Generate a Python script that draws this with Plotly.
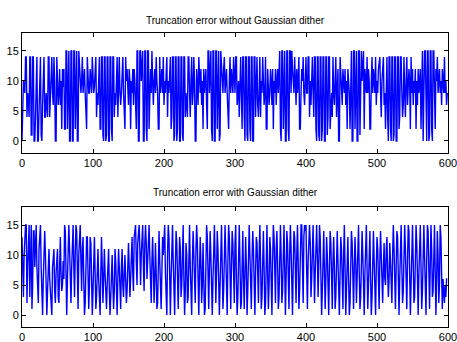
import plotly.graph_objects as go

# Truncation error without Gaussian dither (samples 0..599)
err_no_dither = [
    0, 5, 10, 9, 8, 14, 14, 4, 8, 7, 4, 14, 14, 1, 1, 14, 14, 0, 0, 4,
    14, 14, 0, 0, 5, 14, 14, 1, 0, 6, 14, 14, 4, 4, 8, 6, 4, 14, 14, 4,
    8, 8, 14, 8, 6, 14, 10, 0, 0, 14, 10, 6, 8, 12, 6, 10, 2, 12, 9, 12,
    2, 2, 15, 15, 2, 15, 15, 0, 0, 15, 15, 0, 0, 15, 15, 2, 15, 15, 0, 0,
    15, 12, 10, 8, 10, 14, 8, 10, 12, 8, 2, 2, 14, 10, 8, 8, 12, 10, 8, 14,
    10, 8, 9, 14, 14, 4, 8, 6, 14, 14, 2, 2, 14, 14, 1, 0, 14, 14, 0, 1,
    14, 14, 0, 0, 14, 14, 2, 0, 14, 14, 4, 8, 6, 14, 14, 4, 8, 14, 8, 6,
    8, 10, 14, 8, 2, 2, 14, 10, 12, 8, 6, 12, 10, 2, 10, 8, 12, 6, 12, 10,
    2, 2, 15, 15, 0, 0, 15, 15, 10, 15, 15, 0, 0, 15, 15, 2, 0, 15, 15, 2,
    10, 12, 8, 15, 10, 6, 10, 12, 8, 14, 10, 8, 2, 2, 14, 8, 10, 12, 8, 14,
    6, 10, 8, 14, 14, 4, 10, 8, 14, 14, 2, 4, 14, 14, 0, 1, 14, 14, 0, 2,
    14, 14, 0, 0, 14, 14, 1, 0, 14, 14, 4, 8, 6, 4, 14, 14, 8, 4, 10, 14,
    6, 8, 14, 10, 0, 0, 12, 8, 6, 14, 10, 8, 12, 6, 10, 2, 12, 8, 10, 12,
    6, 2, 15, 15, 8, 15, 15, 2, 0, 15, 15, 0, 0, 15, 15, 2, 15, 15, 0, 1,
    15, 12, 10, 8, 12, 14, 8, 10, 12, 8, 2, 2, 10, 14, 8, 12, 10, 8, 14, 10,
    8, 14, 14, 6, 8, 10, 4, 14, 14, 8, 2, 14, 14, 4, 0, 14, 14, 1, 0, 14,
    14, 2, 0, 14, 14, 0, 0, 14, 14, 4, 8, 14, 6, 4, 8, 14, 4, 10, 8, 14,
    10, 6, 8, 14, 2, 2, 12, 10, 6, 8, 12, 10, 6, 12, 2, 10, 8, 12, 6, 10,
    12, 8, 15, 15, 2, 0, 15, 15, 2, 15, 15, 0, 0, 15, 15, 2, 0, 15, 15, 8,
    15, 12, 10, 8, 14, 10, 6, 12, 8, 10, 14, 2, 2, 8, 12, 10, 14, 8, 6, 10,
    14, 8, 8, 14, 14, 4, 10, 6, 14, 14, 8, 4, 14, 14, 2, 0, 14, 14, 1, 0,
    14, 14, 0, 2, 14, 14, 0, 0, 14, 14, 1, 4, 14, 14, 2, 6, 8, 4, 14, 8,
    6, 10, 14, 4, 8, 12, 0, 0, 14, 10, 8, 6, 12, 10, 8, 12, 6, 10, 2, 12,
    10, 8, 2, 15, 15, 0, 0, 15, 15, 2, 15, 15, 0, 0, 15, 15, 1, 15, 15, 10,
    15, 15, 2, 12, 10, 8, 14, 8, 12, 10, 2, 2, 10, 14, 8, 12, 10, 8, 14, 6,
    10, 8, 12, 14, 14, 8, 4, 10, 14, 14, 6, 8, 2, 14, 14, 4, 0, 14, 14, 2,
    0, 14, 14, 0, 1, 14, 14, 0, 0, 14, 14, 2, 4, 14, 14, 8, 4, 6, 14, 8,
    4, 10, 14, 6, 8, 12, 10, 2, 14, 8, 12, 6, 10, 8, 12, 2, 10, 6, 12, 8,
    10, 12, 2, 15, 15, 0, 8, 15, 15, 2, 0, 15, 15, 0, 1, 15, 15, 2, 0, 15,
    15, 8, 2, 12, 10, 14, 8, 10, 12, 8, 10, 6, 12, 10, 8, 14, 8, 10, 6, 8,
]

# Truncation error with Gaussian dither (samples 0..599)
err_with_dither = [
    13, 9, 3, 10, 14, 15, 15, 2, 8, 15, 15, 3, 12, 15, 1, 5, 14, 14, 8, 12,
    15, 8, 3, 2, 11, 15, 15, 8, 2, 0, 6, 11, 14, 10, 2, 0, 4, 8, 11, 6,
    4, 0, 0, 8, 11, 11, 4, 2, 7, 11, 11, 3, 2, 8, 13, 7, 4, 5, 9, 6,
    15, 14, 4, 0, 6, 11, 15, 11, 2, 2, 8, 12, 15, 8, 3, 10, 15, 14, 4, 1,
    10, 13, 15, 9, 4, 11, 13, 6, 0, 2, 9, 13, 13, 6, 1, 5, 13, 12, 3, 0,
    4, 10, 13, 7, 1, 3, 9, 11, 6, 1, 0, 7, 13, 8, 2, 6, 11, 7, 3, 1,
    5, 11, 11, 4, 0, 3, 7, 10, 5, 1, 4, 11, 9, 3, 0, 6, 11, 8, 2, 1,
    8, 11, 5, 3, 7, 10, 6, 2, 4, 9, 12, 8, 3, 6, 11, 13, 7, 4, 13, 15,
    15, 9, 5, 12, 15, 15, 11, 5, 10, 14, 15, 8, 4, 12, 15, 12, 6, 9, 14, 15,
    10, 3, 2, 9, 13, 8, 2, 6, 12, 7, 1, 2, 10, 14, 9, 3, 1, 7, 13, 10,
    15, 15, 7, 0, 0, 10, 15, 13, 4, 0, 6, 12, 15, 9, 2, 0, 8, 14, 12, 3,
    1, 7, 13, 11, 3, 5, 14, 15, 6, 0, 4, 12, 10, 2, 3, 13, 15, 8, 1, 0,
    9, 14, 10, 4, 2, 11, 15, 12, 3, 0, 7, 13, 9, 2, 5, 12, 6, 0, 1, 9,
    15, 13, 4, 1, 8, 14, 10, 2, 0, 6, 15, 15, 9, 2, 7, 14, 11, 4, 0, 5,
    15, 15, 8, 1, 4, 14, 15, 10, 3, 0, 9, 15, 13, 5, 1, 8, 14, 12, 4, 2,
    12, 15, 6, 0, 3, 11, 15, 9, 1, 2, 13, 14, 6, 1, 7, 13, 8, 0, 4, 12,
    15, 10, 2, 1, 9, 14, 11, 3, 0, 7, 13, 12, 4, 2, 10, 15, 9, 1, 3, 11,
    14, 8, 0, 2, 12, 15, 7, 1, 5, 13, 11, 3, 0, 9, 15, 13, 4, 2, 11, 14,
    9, 1, 3, 12, 15, 10, 2, 4, 13, 15, 8, 0, 6, 14, 12, 3, 1, 10, 15, 11,
    3, 0, 8, 14, 13, 5, 2, 10, 15, 9, 1, 4, 12, 15, 15, 6, 2, 13, 15, 14,
    15, 7, 1, 9, 15, 15, 12, 3, 6, 14, 15, 9, 2, 7, 15, 15, 10, 3, 8, 15,
    13, 5, 0, 4, 12, 14, 7, 1, 6, 13, 10, 2, 0, 8, 14, 12, 4, 1, 9, 13,
    8, 1, 3, 11, 14, 9, 2, 0, 7, 13, 11, 3, 1, 10, 15, 8, 0, 4, 12, 13,
    6, 0, 2, 10, 14, 12, 4, 1, 8, 13, 9, 2, 6, 14, 15, 7, 1, 3, 12, 14,
    10, 2, 0, 7, 13, 15, 8, 1, 5, 12, 14, 6, 0, 3, 11, 14, 9, 2, 0, 8,
    13, 11, 3, 1, 9, 14, 10, 4, 2, 8, 12, 6, 5, 11, 13, 7, 3, 6, 12, 9,
    4, 2, 10, 15, 11, 3, 1, 8, 14, 13, 5, 0, 6, 15, 15, 8, 2, 4, 12, 15,
    11, 3, 1, 9, 15, 14, 6, 0, 5, 13, 15, 9, 2, 3, 11, 15, 12, 4, 0, 7,
    14, 15, 8, 1, 4, 12, 15, 10, 2, 0, 9, 15, 14, 5, 1, 8, 15, 11, 3, 4,
    12, 15, 7, 0, 6, 14, 10, 2, 5, 15, 13, 3, 1, 6, 4, 2, 5, 3, 6, 6,
]

titles = ["Truncation error without Gaussian dither", "Truncation error with Gaussian dither"]
x_ticks = [0, 100, 200, 300, 400, 500, 600]
y_ticks = [0, 5, 10, 15]

fig = go.Figure()
fig.add_trace(go.Scatter(x=list(range(len(err_no_dither))), y=err_no_dither, mode="lines",
                         line=dict(color="#0000ff", width=1.4), xaxis="x", yaxis="y"))
fig.add_trace(go.Scatter(x=list(range(len(err_with_dither))), y=err_with_dither, mode="lines",
                         line=dict(color="#0000ff", width=1.4), xaxis="x2", yaxis="y2"))

axis_common = dict(showline=True, linecolor="black", linewidth=1, mirror="ticks",
                   ticks="inside", ticklen=4, tickcolor="black", showgrid=False,
                   zeroline=False, automargin=False, ticklabeloverflow="allow",
                   tickfont=dict(family="Liberation Sans", size=11, color="black"))

top_dom = [0.592, 1.0]
bot_dom = [0.0, 0.408]

fig.update_layout(
    width=457, height=342,
    margin=dict(l=22, r=9, t=33, b=15),
    paper_bgcolor="white", plot_bgcolor="white",
    showlegend=False,
    xaxis=dict(domain=[0, 1], range=[0, 600], tickvals=x_ticks, anchor="y", **axis_common),
    yaxis=dict(domain=top_dom, range=[-2, 18], tickvals=y_ticks, anchor="x", **axis_common),
    xaxis2=dict(domain=[0, 1], range=[0, 600], tickvals=x_ticks, anchor="y2", **axis_common),
    yaxis2=dict(domain=bot_dom, range=[-2, 18], tickvals=y_ticks, anchor="x2", **axis_common),
    annotations=[
        dict(text=titles[0], x=0.5, y=1.044, xref="paper", yref="paper", showarrow=False,
             xanchor="center", yanchor="middle",
             font=dict(family="Liberation Sans", size=10, color="black")),
        dict(text=titles[1], x=0.5, y=0.459, xref="paper", yref="paper", showarrow=False,
             xanchor="center", yanchor="middle",
             font=dict(family="Liberation Sans", size=10, color="black")),
    ],
)

fig.write_html("out.html")
